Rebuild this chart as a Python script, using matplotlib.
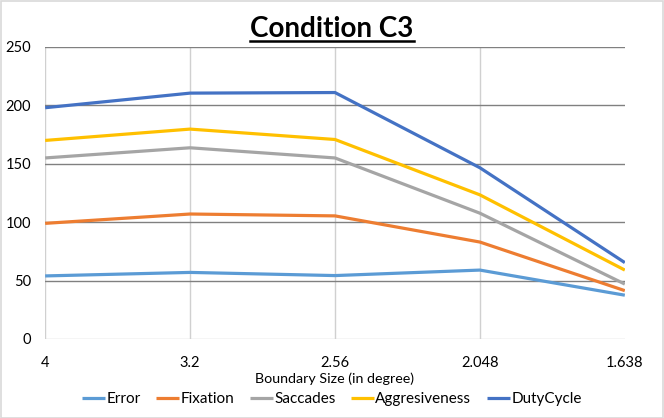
import matplotlib
matplotlib.use("Agg")
import matplotlib.pyplot as plt
from matplotlib.lines import Line2D
from matplotlib.patches import Rectangle

categories = ["4", "3.2", "2.56", "2.048", "1.638"]
error = [54, 57, 54.3, 59, 37.5]
fixation = [99, 107, 105.4, 83, 41.4]
saccades = [155, 163.7, 155, 107.7, 47]
aggresiveness = [170, 179.7, 170.8, 123.4, 59]
dutycycle = [198, 210.5, 211, 146.6, 65.4]

series = [
    ("Error", error, "#5B9BD5"),
    ("Fixation", fixation, "#ED7D31"),
    ("Saccades", saccades, "#A5A5A5"),
    ("Aggresiveness", aggresiveness, "#FFC000"),
    ("DutyCycle", dutycycle, "#4472C4"),
]

plt.rcParams['font.family'] = ['Lato', 'DejaVu Sans']

fig = plt.figure(figsize=(6.64, 4.18), dpi=100)
ax = fig.add_axes([0.068, 0.189, 0.873, 0.6986])

x = list(range(len(categories)))
for name, vals, col in series:
    ax.plot(x, vals, color=col, lw=2.3, label=name, solid_capstyle='butt', zorder=3)

ax.set_xlim(0, len(categories) - 1)
ax.set_ylim(0, 250)
ax.set_yticks([0, 50, 100, 150, 200, 250])
ax.set_xticks(x)
ax.set_xticklabels(categories)
for sp in ax.spines.values():
    sp.set_visible(False)
ax.tick_params(axis='both', length=0, labelsize=10.5, colors='#000000')
ax.tick_params(axis='x', pad=12)
ax.tick_params(axis='y', pad=10)
for xi in x[:-1]:
    ax.axvline(xi, color='#d0d0d0', lw=1, zorder=1)
for yv in [50, 100, 150, 200, 250]:
    ax.axhline(yv, color='#808080', lw=1, zorder=1)
ax.axhline(0, color='#d0d0d0', lw=1, zorder=1)
ax.set_xlabel("Boundary Size (in degree)", fontsize=10.3, labelpad=2)

leg = fig.legend(loc='lower center', bbox_to_anchor=(0.5, -0.005), ncol=5, frameon=False,
                 fontsize=11, handlelength=1.5, handletextpad=0.1, columnspacing=1.0)

t = fig.text(0.5, 0.93, "Condition C3", ha='center', va='center', fontsize=20, fontweight='bold')
fig.canvas.draw()
bb = t.get_window_extent().transformed(fig.transFigure.inverted())
fig.add_artist(Line2D([bb.x0, bb.x1], [bb.y0 + 0.003, bb.y0 + 0.003], color='black', lw=1.8,
                      transform=fig.transFigure))

fig.add_artist(Rectangle((0.001, 0.001), 0.997, 0.997, transform=fig.transFigure,
                         fill=False, edgecolor='#d9d9d9', lw=1.2))

fig.savefig("out.png", dpi=100)
